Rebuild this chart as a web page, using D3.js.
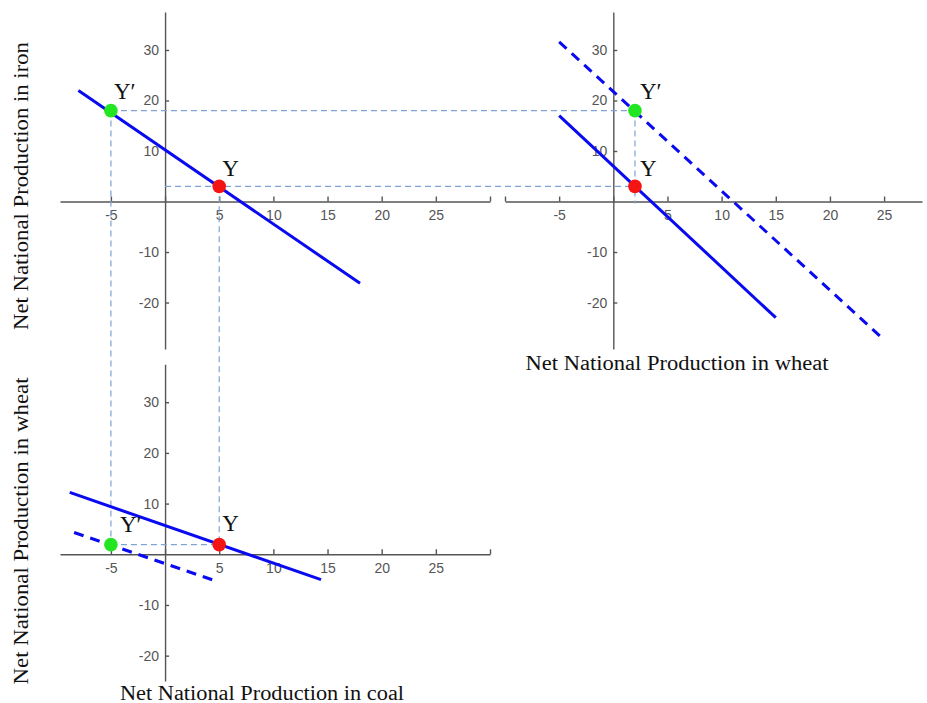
<!DOCTYPE html>
<html>
<head>
<meta charset="utf-8">
<script src="https://cdnjs.cloudflare.com/ajax/libs/d3/7.8.5/d3.min.js"></script>
<style>
body { margin: 0; background: #fff; }
.axis path, .axis line { stroke: #555; stroke-width: 1.4; }
.axis text { fill: #555; font-family: "Liberation Sans", Arial, sans-serif; font-size: 14px; }
.lbl { font-family: "Liberation Serif", "DejaVu Serif", serif; fill: #111; }
</style>
</head>
<body>
<div id="chart"></div>
<script>
// tick values shared by the three panels
var xTicks = [-10, -5, 0, 5, 10, 15, 20, 25, 30];
var xLabels = [-5, 5, 10, 15, 20, 25];
var yTicks = [-20, -10, 10, 20, 30];

// top left: iron vs coal
var ironCoalLine = [[-8, 22], [18, -16.2]];
var ironCoalY = [5, 3];
var ironCoalYp = [-5, 18];

// top right: iron vs wheat (solid = before, dashed = shifted)
var ironWheatLine = [[-5, 17], [15, -23]];
var ironWheatShift = [[-5, 31.6], [25, -27.4]];
var ironWheatY = [2, 3];
var ironWheatYp = [2, 18];

// bottom: wheat vs coal
var wheatCoalLine = [[-8.8, 12.2], [14.4, -5]];
var wheatCoalShift = [[-8.4, 4.3], [4.6, -5.2]];
var wheatCoalY = [5, 1.9];
var wheatCoalYp = [-5, 1.9];

var width = 927, height = 703;

var svg = d3.select("#chart").append("svg")
    .attr("width", width)
    .attr("height", height);

// scales for each panel (pixel ranges picked to line up with the picture)
var xLeft = d3.scaleLinear().domain([-9.7, 30]).range([60, 490]);
var yTop = d3.scaleLinear().domain([37.5, -29.2]).range([12.1, 349]);
var xRight = d3.scaleLinear().domain([-10, 28.5]).range([505, 922]);
var yBottom = d3.scaleLinear().domain([37.5, -25]).range([364.2, 681]);

var line = d3.line();

function drawAxes(xs, ys) {
    var xt = xTicks.filter(function(t) { return t >= xs.domain()[0] && t <= xs.domain()[1]; });
    svg.append("g")
        .attr("class", "axis")
        .attr("transform", `translate(0, ${ys(0)})`)
        .call(d3.axisBottom(xs)
            .tickValues(xt)
            .tickSizeInner(-5)
            .tickSizeOuter(0)
            .tickPadding(9)
            .tickFormat(function(d) { return xLabels.indexOf(d) >= 0 ? String(d) : ""; }));

    svg.append("g")
        .attr("class", "axis")
        .attr("transform", `translate(${xs(0)}, 0)`)
        .call(d3.axisLeft(ys)
            .tickValues(yTicks)
            .tickSizeInner(-4)
            .tickSizeOuter(0)
            .tickPadding(6)
            .tickFormat(function(d) { return String(d); }));
}

drawAxes(xLeft, yTop);
drawAxes(xRight, yTop);
drawAxes(xLeft, yBottom);

// dashed guide lines between the panels
var guideColor = "#7fa3d3";
function guide(x1, y1, x2, y2) {
    svg.append("line")
        .attr("x1", x1).attr("y1", y1)
        .attr("x2", x2).attr("y2", y2)
        .style("stroke", guideColor)
        .style("stroke-width", 1.2)
        .style("stroke-dasharray", "6,4");
}

// horizontal: top left -> top right
guide(xLeft(ironCoalYp[0]), yTop(ironCoalYp[1]), xRight(ironWheatYp[0]), yTop(ironWheatYp[1]));
guide(xLeft(0), yTop(ironCoalY[1]), xRight(ironWheatY[0]), yTop(ironWheatY[1]));
// vertical inside top right
guide(xRight(ironWheatYp[0]), yTop(ironWheatYp[1]), xRight(ironWheatY[0]), yTop(0) + 2);
// vertical: top left -> bottom
guide(xLeft(ironCoalYp[0]), yTop(ironCoalYp[1]), xLeft(wheatCoalYp[0]), yBottom(wheatCoalYp[1]));
guide(xLeft(ironCoalY[0]), yTop(ironCoalY[1]), xLeft(wheatCoalY[0]), yBottom(wheatCoalY[1]));
// horizontal inside bottom
guide(xLeft(wheatCoalYp[0]), yBottom(wheatCoalYp[1]), xLeft(wheatCoalY[0]), yBottom(wheatCoalY[1]));

// blue lines
function drawLine(pts, xs, ys, dashed) {
    svg.append("path")
        .datum(pts)
        .attr("d", line.x(function(d) { return xs(d[0]); }).y(function(d) { return ys(d[1]); }))
        .style("fill", "none")
        .style("stroke", "#0a0af0")
        .style("stroke-width", 3)
        .style("stroke-dasharray", dashed ? "10,7" : null);
}

drawLine(ironCoalLine, xLeft, yTop, false);
drawLine(ironWheatLine, xRight, yTop, false);
drawLine(ironWheatShift, xRight, yTop, true);
drawLine(wheatCoalLine, xLeft, yBottom, false);
drawLine(wheatCoalShift, xLeft, yBottom, true);

// points + Y / Y′ labels
function drawPoint(p, xs, ys, color, name, dx, dy) {
    svg.append("circle")
        .attr("cx", xs(p[0]))
        .attr("cy", ys(p[1]))
        .attr("r", 6.8)
        .style("fill", color);
    svg.append("text")
        .attr("class", "lbl")
        .attr("x", xs(p[0]) + dx)
        .attr("y", ys(p[1]) + dy)
        .style("font-size", "23px")
        .text(name);
}

drawPoint(ironCoalYp, xLeft, yTop, "#22e622", "Y\u2032", 3, -12);
drawPoint(ironCoalY, xLeft, yTop, "#f51414", "Y", 3, -10);
drawPoint(ironWheatYp, xRight, yTop, "#22e622", "Y\u2032", 5, -12);
drawPoint(ironWheatY, xRight, yTop, "#f51414", "Y", 5, -10);
drawPoint(wheatCoalYp, xLeft, yBottom, "#22e622", "Y\u2032", 9, -13);
drawPoint(wheatCoalY, xLeft, yBottom, "#f51414", "Y", 3, -14);

// axis titles
function title(txt, x, y, len, rotate) {
    svg.append("text")
        .attr("class", "lbl")
        .attr("text-anchor", "middle")
        .attr("transform", `translate(${x}, ${y})` + (rotate ? " rotate(-90)" : ""))
        .attr("textLength", len)
        .attr("lengthAdjust", "spacingAndGlyphs")
        .style("font-size", "20px")
        .text(txt);
}

title("Net National Production in iron", 28, 186, 288, true);
title("Net National Production in wheat", 28, 531, 307, true);
title("Net National Production in wheat", 677, 370, 303, false);
title("Net National Production in coal", 262, 700, 284, false);
</script>
</body>
</html>
